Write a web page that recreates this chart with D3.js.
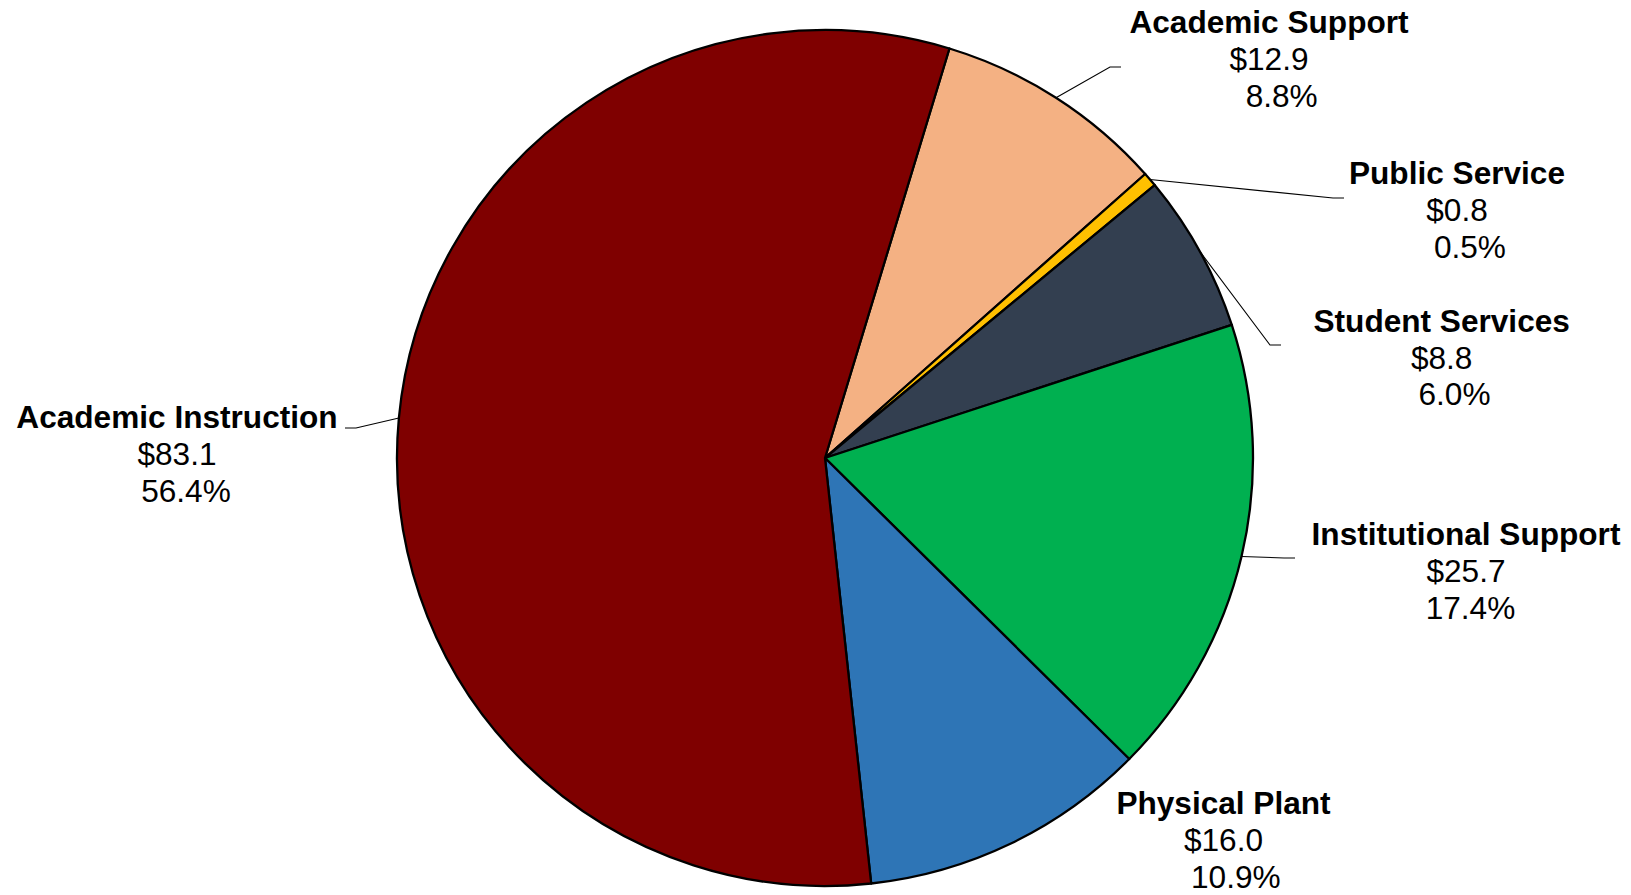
<!DOCTYPE html>
<html><head><meta charset="utf-8">
<script src="https://cdn.jsdelivr.net/npm/d3@7"></script>
<style>html,body{margin:0;padding:0;background:#fff;} svg{display:block}</style>
</head><body><svg id="chart" width="1631" height="895"></svg>
<script>
// ---- data ----
const categories = ["Academic Support","Public Service","Student Services","Institutional Support","Physical Plant","Academic Instruction"];
const amounts = [12.9, 0.8, 8.8, 25.7, 16.0, 83.1];
const sliceColors = ["#F4B183","#FFC000","#333F50","#00B050","#2E75B6","#7F0000"];

// ---- label layout (offsets from pie centre, px) ----
const labelCx   = [444, 632, 616.7, 641, 398.5, -648];
const labelBase = [-425, -274, -126.3, 87, 356, -30];
const pctShift  = [12.7, 12.9, 12.8, 4.5, 12.3, 9];
const leaderEnd = [[296,-391],[519,-260],[456,-113],[470,100],null,[-480,-30]];

const W = 1631, H = 895;
const cx = 825, cy = 458, R = 428;
const startDeg = 16.9;
const total = d3.sum(amounts);
const fmtPct = d3.format(".1%");
const fmtAmt = d3.format("$.1f");

const data = categories.map((c,i)=>({cat:c, v:amounts[i], color:sliceColors[i], i}));

const pie = d3.pie().value(d=>d.v).sort(null)
  .startAngle(startDeg*Math.PI/180).endAngle(startDeg*Math.PI/180 + 2*Math.PI);
const arcs = pie(data);
const arc = d3.arc().innerRadius(0).outerRadius(R);

const svg = d3.select("#chart");
const g = svg.append("g").attr("transform",`translate(${cx},${cy})`);

g.selectAll("path.slice").data(arcs).join("path")
  .attr("class","slice")
  .attr("d", arc)
  .attr("fill", d=>d.data.color)
  .attr("stroke","#000")
  .attr("stroke-width",2.3)
  .attr("stroke-linejoin","round");

// leader lines
const line = d3.line();
arcs.forEach(a=>{
  const e = leaderEnd[a.data.i];
  if(!e) return;
  const mid = (a.startAngle + a.endAngle)/2;
  const s = [R*Math.sin(mid), -R*Math.cos(mid)];
  const sign = e[0] > 0 ? 1 : -1;
  const elbow = [e[0] - sign*11, e[1]];
  g.append("path").attr("d", line([s, elbow, e]))
    .attr("fill","none").attr("stroke","#000").attr("stroke-width",1.1);
});

// labels
const font = "'Liberation Sans', Arial, Helvetica, sans-serif";
arcs.forEach(a=>{
  const i = a.data.i;
  const t = g.append("text")
    .attr("font-family", font).attr("font-size", 31.6).attr("fill","#000")
    .attr("text-anchor","middle");
  t.append("tspan").attr("x", labelCx[i]).attr("y", labelBase[i])
    .attr("font-weight","bold").text(a.data.cat);
  t.append("tspan").attr("x", labelCx[i]).attr("y", labelBase[i] + 37)
    .text(fmtAmt(a.data.v));
  t.append("tspan").attr("x", labelCx[i] + pctShift[i]).attr("y", labelBase[i] + 73.5)
    .text(fmtPct(a.data.v/total));
});
</script>
</body></html>
